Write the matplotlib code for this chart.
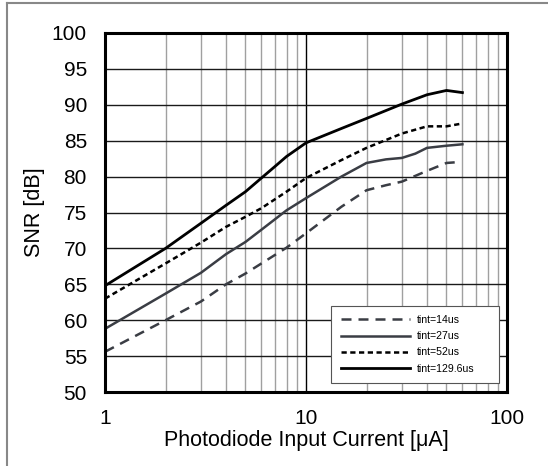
import matplotlib
matplotlib.use("Agg")
import matplotlib.pyplot as plt
from matplotlib.lines import Line2D
from matplotlib.ticker import FixedLocator, NullFormatter

plt.rcParams['font.family'] = ['Liberation Sans', 'DejaVu Sans']

# photodiode current [uA] and SNR [dB] for each integration time
current_14 = [1, 2, 3, 4, 5, 6, 8, 10, 15, 20, 25, 30, 40, 50, 56]
snr_14 = [55.6, 60.0, 62.6, 65.0, 66.5, 67.9, 70.1, 72.1, 75.8, 78.1, 78.8, 79.3, 80.8, 81.9, 82.0]

current_27 = [1, 2, 3, 4, 5, 6, 8, 10, 15, 20, 25, 30, 35, 40, 50, 60]
snr_27 = [58.8, 63.7, 66.6, 69.2, 70.9, 72.6, 75.3, 77.0, 80.0, 81.9, 82.4, 82.6, 83.2, 84.0, 84.3, 84.5]

current_52 = [1, 2, 3, 4, 5, 6, 8, 10, 15, 20, 30, 40, 50, 60]
snr_52 = [63.0, 67.9, 70.8, 73.0, 74.4, 75.6, 77.9, 79.8, 82.3, 84.0, 86.0, 87.0, 87.0, 87.4]

current_129 = [1, 2, 3, 4, 5, 6, 7, 8, 10, 15, 20, 30, 40, 50, 60]
snr_129 = [64.8, 70.0, 73.5, 76.0, 77.9, 79.8, 81.4, 82.8, 84.7, 86.7, 88.1, 90.1, 91.4, 92.0, 91.7]

W, H = 548, 466
fig = plt.figure(figsize=(W / 100, H / 100), dpi=100)
ax = fig.add_axes([105 / W, 1 - 392 / H, 402 / W, 359 / H])

ax.set_xscale("log")
ax.set_xlim(1, 100)
ax.set_ylim(50, 100)

# grid: dark horizontal lines, gray minor decades, black at 10
ax.set_yticks(range(50, 101, 5))
ax.xaxis.set_major_locator(FixedLocator([1, 10, 100]))
minors = [m * d for d in (1, 10) for m in range(2, 10)]
ax.xaxis.set_minor_locator(FixedLocator(minors))
ax.xaxis.set_minor_formatter(NullFormatter())
ax.set_xticklabels(["1", "10", "100"])
ax.grid(True, axis="y", which="major", color="#1a1a1a", linewidth=1.0)
ax.grid(True, axis="x", which="minor", color="#a0a0a0", linewidth=1.0)
ax.grid(True, axis="x", which="major", color="#000000", linewidth=1.0)
ax.tick_params(which="both", length=0, labelsize=15)
ax.tick_params(axis="y", pad=13)
ax.tick_params(axis="x", pad=12)

for s in ax.spines.values():
    s.set_linewidth(2.2)
    s.set_color("black")

ax.plot(current_14, snr_14, color="#3a3d44", lw=1.8, dashes=(4, 2.8), label="tint=14us")
ax.plot(current_27, snr_27, color="#3a3d44", lw=1.8, label="tint=27us")
ax.plot(current_52, snr_52, color="black", lw=1.8, dashes=(2.1, 1.4), label="tint=52us")
ax.plot(current_129, snr_129, color="black", lw=2.0, label="tint=129.6us")

leg = ax.legend(loc="lower left", bbox_to_anchor=(331 / W, 1 - 383 / H, 168 / W, 74 / H),
                bbox_transform=fig.transFigure, mode="expand", borderaxespad=0,
                fontsize=7.6, frameon=True, fancybox=False, framealpha=1,
                edgecolor="#555555", handlelength=6.6, labelspacing=0.58,
                borderpad=0.9, handletextpad=0.6)
leg.get_frame().set_linewidth(0.8)

ax.set_ylabel("SNR [dB]", fontsize=15.5, labelpad=5)
ax.set_xlabel("Photodiode Input Current [\u03bcA]", fontsize=15.5, labelpad=2)

# thin gray frame on the top and left edges
fig.add_artist(Line2D([7 / W, 7 / W], [0, 1 - 3 / H], color="#888888", lw=1.5))
fig.add_artist(Line2D([7 / W, 1], [1 - 3 / H, 1 - 3 / H], color="#888888", lw=1.5))

fig.savefig("out.png", dpi=100)
